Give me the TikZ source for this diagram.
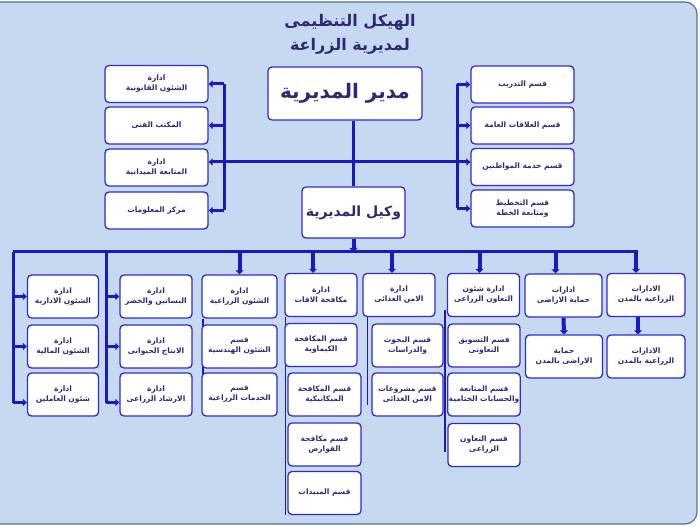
\documentclass[tikz,border=0pt]{standalone}
\usepackage{fontspec}
\newfontfamily\arabicfont[Script=Arabic]{DejaVu Sans}
\TeXXeTstate=1
\usepackage{tikz}
\usetikzlibrary{arrows.meta}
\definecolor{paneblue}{RGB}{198,217,240}
\definecolor{paneedge}{RGB}{84,112,150}
\definecolor{wireblue}{RGB}{26,26,190}
\definecolor{boxedge}{RGB}{45,45,205}
\definecolor{inkblue}{RGB}{48,40,118}
\newcommand{\rtl}[1]{\beginR #1\endR}
\pgfdeclarelayer{back}
\pgfdeclarelayer{wires}
\pgfsetlayers{back,wires,main}
\tikzset{
	unit/.style={draw=boxedge, line width=1.3pt, rounded corners=4pt, fill=white, align=center, text=inkblue, inner sep=1pt, font=\arabicfont\bfseries\fontsize{7.5}{10}\selectfont},
	side/.style={unit, minimum width=103pt, minimum height=37pt},
	dept/.style={unit, minimum width=72pt, minimum height=43pt},
	wire/.style={draw=wireblue, line width=3pt},
	feed/.style={draw=wireblue, line width=3pt, -{Triangle[length=4pt,width=7pt]}},
	stub/.style={draw=wireblue, line width=4pt, -{Triangle[length=4pt,width=8pt]}},
	rail/.style={draw=wireblue, line width=1.6pt},
}

\begin{document}
\begin{tikzpicture}[x=1pt,y=-1pt]
		\useasboundingbox (0,0) rectangle (700,526);
		\begin{pgfonlayer}{back}
			\fill[paneblue, draw=paneedge, line width=1.2pt, rounded corners=12pt] (-20,2) rectangle (697,524);
		\end{pgfonlayer}
		
		\node[text=inkblue, align=center, font=\arabicfont\bfseries\fontsize{16}{24}\selectfont] (title) at (350,34) {\rtl{الهيكل التنظيمى}\\\rtl{لمديرية الزراعة}};
		\node[unit, minimum width=154pt, minimum height=53pt, font=\arabicfont\bfseries\fontsize{20}{24}\selectfont] (dir) at (345,93.5) {\rtl{مدير  المديرية}};
		\node[unit, minimum width=103pt, minimum height=51pt, font=\arabicfont\bfseries\fontsize{14}{18}\selectfont] (dep) at (353.5,212.5) {\rtl{وكيل المديرية}};
		
		% side offices
		\node[side] (l1) at (156.5,84) {\rtl{ادارة}\\\rtl{الشئون القانونية}};
		\node[side] (l2) at (156.5,125.5) {\rtl{المكتب الفنى}};
		\node[side] (l3) at (156.5,167.5) {\rtl{ادارة}\\\rtl{المتابعة الميدانية}};
		\node[side] (l4) at (156.5,210.5) {\rtl{مركز المعلومات}};
		\node[side] (r1) at (522.5,84.5) {\rtl{قسم التدريب}};
		\node[side] (r2) at (522.5,125.5) {\rtl{قسم العلاقات العامة}};
		\node[side] (r3) at (522.5,167) {\rtl{قسم خدمة المواطنين}};
		\node[side] (r4) at (522.5,208.5) {\rtl{قسم التخطيط}\\\rtl{ومتابعة الخطة}};
		
		% columns under the deputy
		\node[dept, minimum width=71pt] (a1) at (63,296.5) {\rtl{ادارة}\\\rtl{الشئون الادارية}};
		\node[dept, minimum width=71pt] (a2) at (63,346.5) {\rtl{ادارة}\\\rtl{الشئون المالية}};
		\node[dept, minimum width=71pt] (a3) at (63,394.5) {\rtl{ادارة}\\\rtl{شئون العاملين}};
		\node[dept] (b1) at (156,296.5) {\rtl{ادارة}\\\rtl{البساتين والخضر}};
		\node[dept] (b2) at (156,346.5) {\rtl{ادارة}\\\rtl{الانتاج الحيوانى}};
		\node[dept] (b3) at (156,394.5) {\rtl{ادارة}\\\rtl{الارشاد الزراعى}};
		\node[dept, minimum width=75pt] (c1) at (239.5,296.5) {\rtl{ادارة}\\\rtl{الشئون الزراعية}};
		\node[dept, minimum width=75pt] (c2) at (239.5,346.5) {\rtl{قسم}\\\rtl{الشئون الهندسية}};
		\node[dept, minimum width=75pt] (c3) at (239.5,394.5) {\rtl{قسم}\\\rtl{الخدمات الزراعية}};
		\node[dept] (d1) at (321,295) {\rtl{ادارة}\\\rtl{مكافحة الافات}};
		\node[dept] (d2) at (321,345) {\rtl{قسم المكافحة}\\\rtl{الكيماوية}};
		\node[dept, minimum width=73pt] (d3) at (324.5,394.5) {\rtl{قسم المكافحة}\\\rtl{الميكانيكية}};
		\node[dept, minimum width=73pt] (d4) at (324.5,444.5) {\rtl{قسم مكافحة}\\\rtl{القوارض}};
		\node[dept, minimum width=73pt] (d5) at (324.5,493) {\rtl{قسم المبيدات}};
		\node[dept] (e1) at (399,295) {\rtl{ادارة}\\\rtl{الامن الغذائى}};
		\node[dept, minimum width=71pt] (e2) at (407.5,345.5) {\rtl{قسم البحوث}\\\rtl{والدراسات}};
		\node[dept, minimum width=71pt] (e3) at (407.5,394.5) {\rtl{قسم مشروعات}\\\rtl{الامن الغذائى}};
		\node[dept] (f1) at (483.5,295) {\rtl{ادارة شئون}\\\rtl{التعاون الزراعى}};
		\node[dept] (f2) at (484,345.5) {\rtl{قسم التسويق}\\\rtl{التعاونى}};
		\node[dept] (f3) at (484,394.5) {\rtl{قسم المتابعة}\\\rtl{والحسابات الختامية}};
		\node[dept] (f4) at (484,445) {\rtl{قسم التعاون}\\\rtl{الزراعى}};
		\node[dept, minimum width=77pt] (g1) at (563.5,295.5) {\rtl{ادارات}\\\rtl{حماية الاراضى}};
		\node[dept, minimum width=77pt] (g2) at (564,356.5) {\rtl{حماية}\\\rtl{الاراضى بالمدن}};
		\node[dept, minimum width=78pt] (h1) at (646,295) {\rtl{الادارات}\\\rtl{الزراعية بالمدن}};
		\node[dept, minimum width=78pt] (h2) at (646,356.5) {\rtl{الادارات}\\\rtl{الزراعية بالمدن}};
		
		\coordinate (hub) at (353.5,162);
		\coordinate (lbar) at (224,162);
		\coordinate (rbar) at (457,162);
		\coordinate (bus) at (13,252);
		\coordinate (busend) at (638,252);
		\coordinate (bbar) at (106,252);
		\coordinate (a3in) at ([yshift=-8pt]a3.west);
		\coordinate (b3in) at ([yshift=-8pt]b3.west);
		
		\begin{pgfonlayer}{wires}
			\draw[wire] (dep.north |- dir.south) -- (dep.north);
			\draw[feed] (hub) -- (hub -| l3.east);
			\draw[feed] (hub) -- (hub -| r3.west);
			\draw[wire] (lbar |- l1.east) -- (lbar |- l4.east);
			\draw[wire] (rbar |- r1.west) -- (rbar |- r4.west);
			\foreach \n in {l1,l2,l4}
				\draw[feed] (lbar |- \n.east) -- (\n.east);
			\foreach \n in {r1,r2,r4}
				\draw[feed] (rbar |- \n.west) -- (\n.west);
			
			\draw[stub] (dep.south) -- (dep.south |- bus);
			\draw[wire] (bus) -- (busend);
			\draw[wire] (bus) -- (bus |- a3in);
			\draw[wire] (bbar) -- (bbar |- b3in);
			\draw[feed] (bus |- a1.west) -- (a1.west);
			\draw[feed] (bus |- a2.west) -- (a2.west);
			\draw[feed] (bus |- a3in) -- (a3in);
			\draw[feed] (bbar |- b1.west) -- (b1.west);
			\draw[feed] (bbar |- b2.west) -- (b2.west);
			\draw[feed] (bbar |- b3in) -- (b3in);
			\foreach \n/\dx in {c1/0,d1/-8,e1/-7,f1/-4,g1/-8,h1/-10}
				\draw[stub] ([xshift=\dx pt]\n.north |- bus) -- ([xshift=\dx pt]\n.north);
			
			\draw[rail] ([xshift=1.5pt]c1.south west) -- ([xshift=1.5pt]c3.west);
			\draw[rail] ([xshift=1pt]d1.south west) -- ([xshift=1pt]d1.south west |- d5.south);
			\draw[rail] ([xshift=5pt]e1.south west) -- ([xshift=5pt,yshift=-10pt]e1.south west |- e3.west);
			\draw[rail] ([xshift=-2pt,yshift=7pt]f1.south west) -- ([xshift=-2pt,yshift=-7pt]f1.south west |- f4.west);
			\draw[stub] (g1.south) -- (g2.north);
			\draw[stub] ([xshift=-8pt]h1.south) -- ([xshift=-8pt]h2.north);
		\end{pgfonlayer}
	\end{tikzpicture}
\end{document}
